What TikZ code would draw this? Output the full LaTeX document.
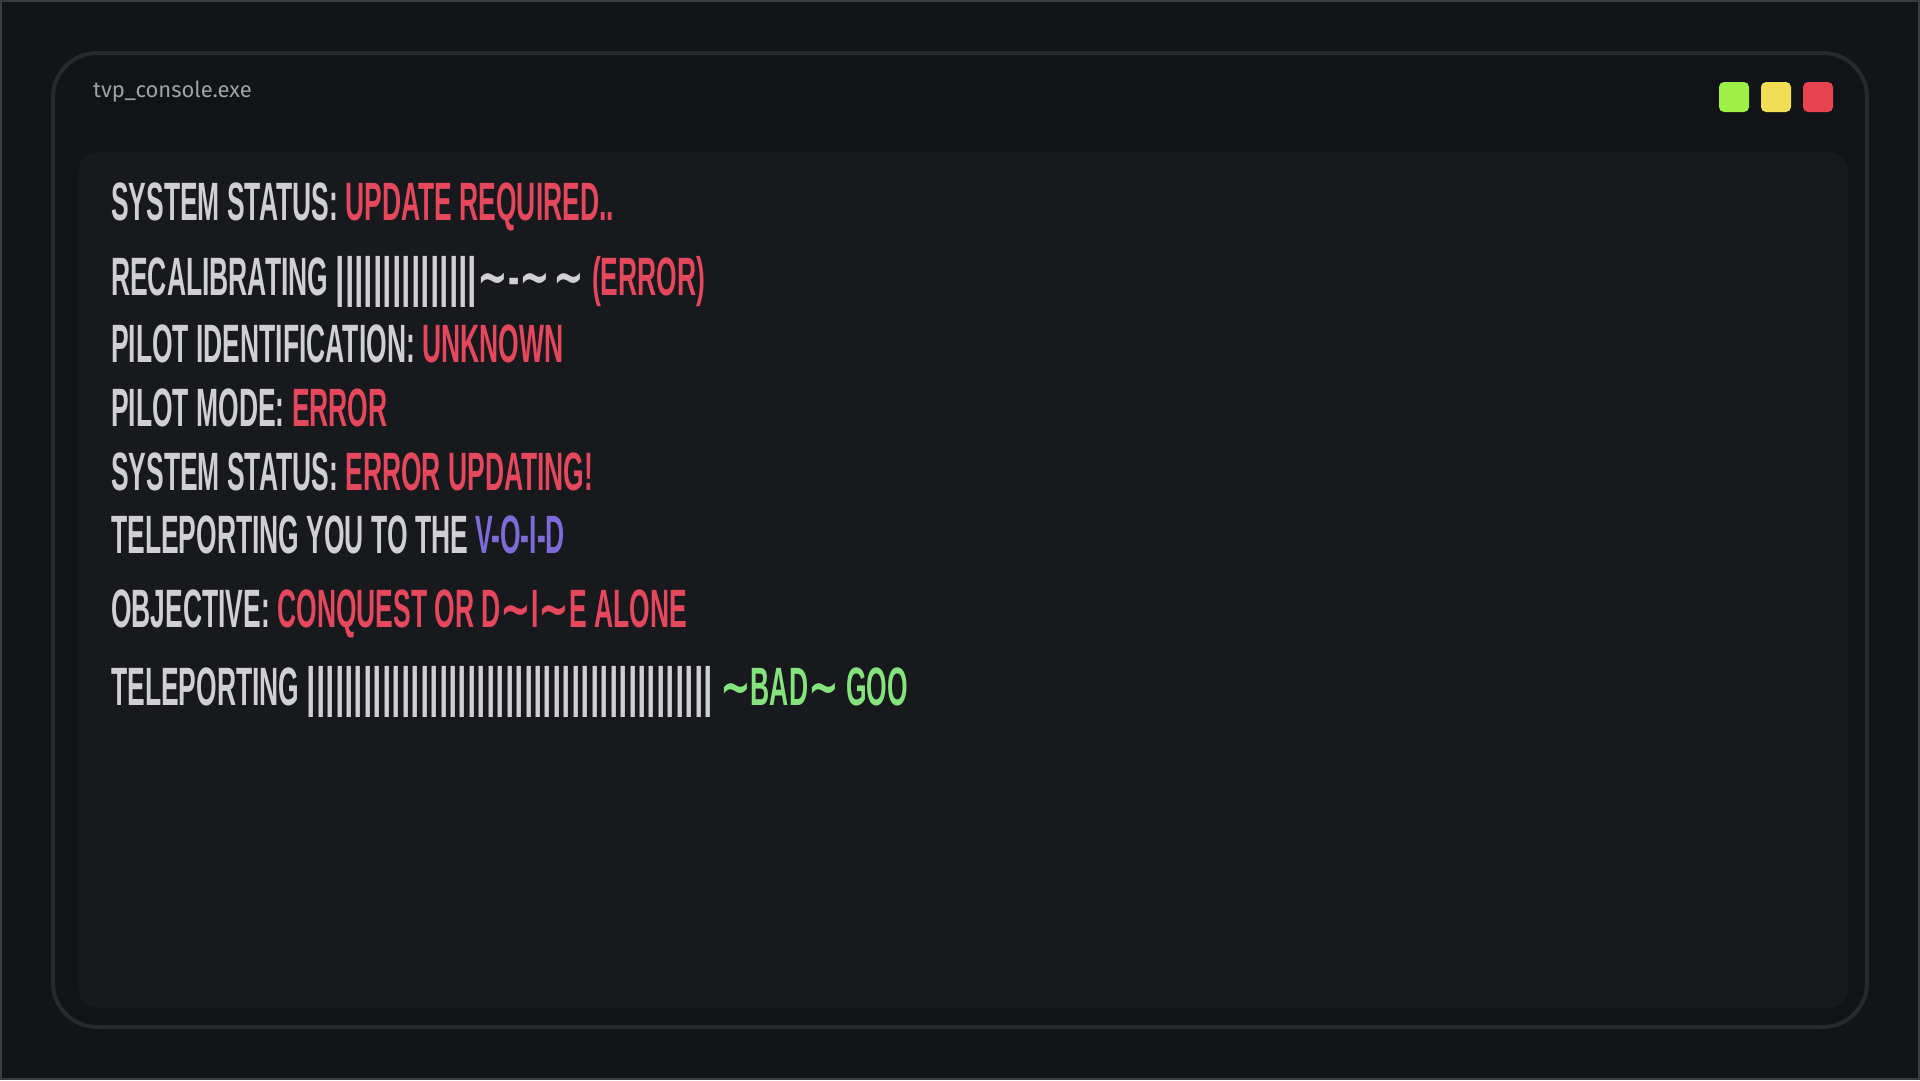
\documentclass[tikz,border=0pt]{standalone}
\usepackage{fontspec}
\usetikzlibrary{positioning}
\newfontfamily\consolefont[FakeStretch=0.49]{Liberation Sans}
\newfontfamily\barfont[FakeStretch=0.625]{Liberation Sans}
\newfontfamily\tildefont[FakeStretch=0.68]{DejaVu Sans}
\newfontfamily\titlefont{Fira Sans}
\definecolor{bgdark}{HTML}{131417}
\definecolor{framegray}{HTML}{3C3D41}
\definecolor{windark}{HTML}{121316}
\definecolor{winedge}{HTML}{28292D}
\definecolor{panelgray}{HTML}{18191D}
\definecolor{titlegray}{HTML}{A0A1A5}
\definecolor{textgray}{HTML}{D0D0D2}
\definecolor{errred}{HTML}{E5475D}
\definecolor{voidpurple}{HTML}{7D6BD8}
\definecolor{goodgreen}{HTML}{85E37E}
\definecolor{lightgreen}{HTML}{9EF047}
\definecolor{lightyellow}{HTML}{F2DE55}
\definecolor{lightred}{HTML}{E5434F}
\newcommand{\err}[1]{\textcolor{errred}{#1}}
\newcommand{\tld}{{\tildefont\textasciitilde}}
\tikzset{
consoleline/.style={anchor=base west, inner sep=0pt, text=textgray,
  font=\consolefont\bfseries\fontsize{54}{54}\selectfont}, % every line of the console
light/.style={minimum size=30pt, inner sep=0pt, outer sep=0pt, rounded corners=5pt}, % the three window buttons
}

\begin{document}
\begin{tikzpicture}[x=1pt,y=-1pt]
    \useasboundingbox (0,0) rectangle (1920,1080);
    \fill[bgdark] (0,0) rectangle (1920,1080);
    \draw[framegray, line width=2pt] (1,1) rectangle (1919,1079);
    % window and panel
    \draw[winedge, line width=4pt, fill=windark, rounded corners=44pt] (53,53) rectangle (1867,1027);
    \fill[panelgray, rounded corners=20pt] (78,152) rectangle (1848,1008);
    \node[anchor=base west, inner sep=0pt, text=titlegray, font=\titlefont\fontsize{22}{22}\selectfont] (title) at (93,97) {tvp\_console.exe};
    \node[light, fill=lightgreen] (bgreen) at (1734,97) {};
    \node[light, fill=lightyellow, right=12pt of bgreen] (byellow) {};
    \node[light, fill=lightred, right=12pt of byellow] (bred) {};
    % console lines
    \node[consoleline] (l1) at (111,220) {SYSTEM STATUS: \err{UPDATE REQUIRED..}};
    \node[consoleline] (l2) at (111,295) {RECALIBRATING {\barfont |||||||||||||||}\tld{\barfont-}\tld\kern4pt\tld\ \err{(ERROR)}};
    \node[consoleline] (l3) at (111,362) {PILOT IDENTIFICATION: \err{UNKNOWN}};
    \node[consoleline] (l4) at (111,426) {PILOT MODE: \err{ERROR}};
    \node[consoleline] (l5) at (111,490) {SYSTEM STATUS: \err{ERROR UPDATING!}};
    \node[consoleline] (l6) at (111,553) {TELEPORTING YOU TO THE \textcolor{voidpurple}{V-O-I-D}};
    \node[consoleline] (l7) at (111,627) {OBJECTIVE: \err{CONQUEST OR D\tld I\tld E ALONE}};
    \node[consoleline] (l8) at (111,705) {TELEPORTING {\barfont |||||||||||||||||||||||||||||||||||||||||||} \textcolor{goodgreen}{\tld BAD\tld\ GOO}};
\end{tikzpicture}
\end{document}
